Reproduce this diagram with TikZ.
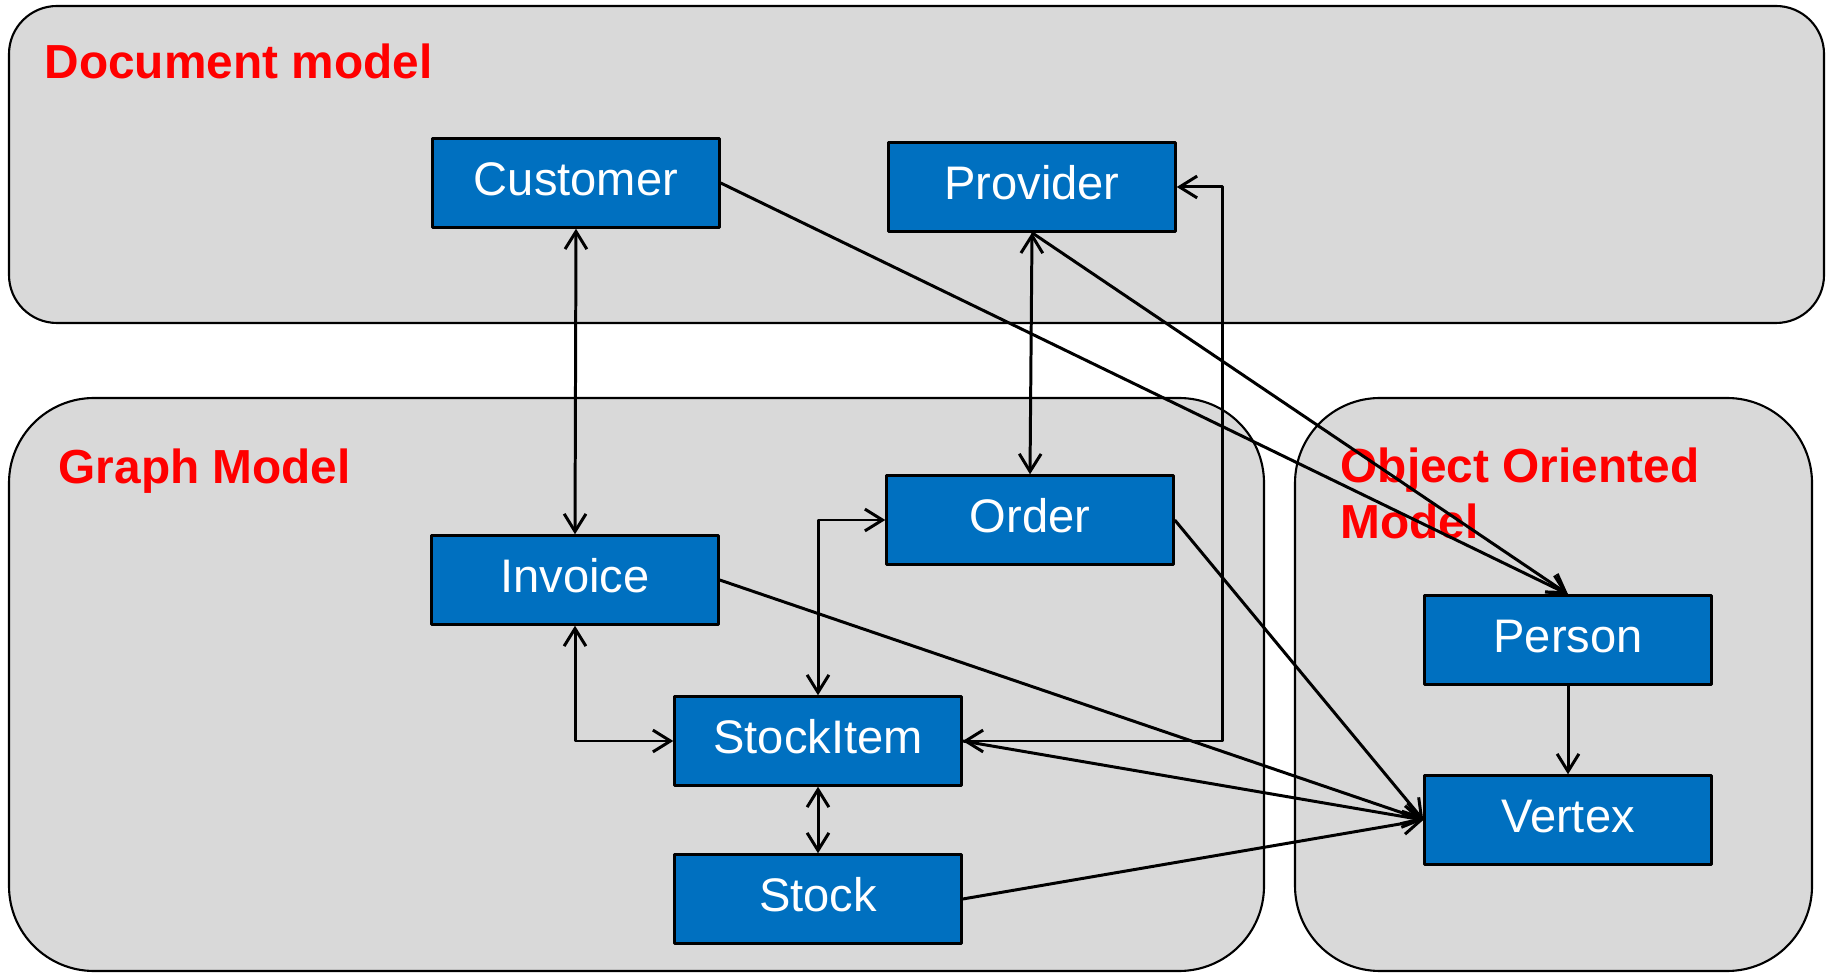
\documentclass[tikz,border=0pt]{standalone}
\usepackage{fontspec}
\setmainfont{Liberation Sans}
\usetikzlibrary{arrows.meta}
\definecolor{boxblue}{HTML}{0070C0}
\definecolor{panelgray}{HTML}{D9D9D9}
\definecolor{titlered}{HTML}{FF0000}
\begin{document}
\begin{tikzpicture}[x=0.1mm, y=-0.1mm, >={Straight Barb[length=5pt,width=6.2pt]}, line join=round,
	panel/.style={draw=black, line width=0.6pt, fill=panelgray, rounded corners=#1},
	title/.style={text=titlered, inner sep=0pt, anchor=base west, align=left, font=\fontsize{13.6}{16}\selectfont\bfseries},
	entity/.style={draw=black, line width=0.7pt, fill=boxblue, text=white, minimum width=28.7mm, minimum height=8.9mm, inner sep=0pt, text height=10pt, text depth=3pt, font=\fontsize{13.4}{16}\selectfont},
	link/.style={line width=0.85pt}]
	\useasboundingbox (0,0) rectangle (1829,973);
	% panels
	\draw[panel=4.8mm] (9,6) rectangle (1824,323);
	\draw[panel=8.5mm] (9,398) rectangle (1264,971);
	\draw[panel=8.5mm] (1295,398) rectangle (1812,971);
	\node[title] (tdoc) at (44,79) {Document model};
	\node[title] (tgraph) at (58,484) {Graph Model};
	\node[title] (too) at (1340,539) {Object Oriented\\Model};
	% entities
	\node[entity] (cust) at (576,183) {Customer};
	\node[entity] (prov) at (1032,187) {Provider};
	\node[entity] (ord) at (1030,520) {Order};
	\node[entity] (inv) at (575,580) {Invoice};
	\node[entity] (item) at (818,741) {StockItem};
	\node[entity] (stock) at (818,899) {Stock};
	\node[entity] (pers) at (1568,640) {Person};
	\node[entity] (vert) at (1568,820) {Vertex};
	% links
	\draw[link,<->] (cust.south) -- (inv.north);
	\draw[link,<->] (prov.south) -- (ord.north);
	\draw[link,->] (cust.east) -- (pers.north);
	\draw[link,->] (prov.south) -- (pers.north);
	\draw[link,<->] (item.east) -| ([xshift=4.6mm]prov.east) -- (prov.east);
	\draw[link,<->] (inv.south) |- (item.west);
	\draw[link,<->] (item.north) |- (ord.west);
	\draw[link,<->] (item.south) -- (stock.north);
	\draw[link,->] (pers.south) -- (vert.north);
	\foreach \src in {inv,ord,item,stock}
		\draw[link,->] (\src.east) -- (vert.west);
\end{tikzpicture}
\end{document}
